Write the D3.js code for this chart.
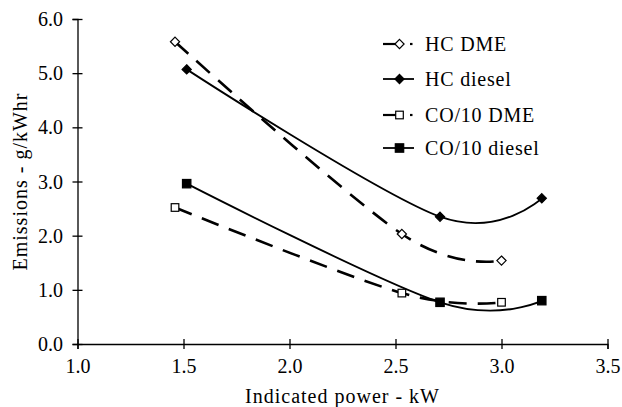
<!DOCTYPE html>
<html>
<head>
<meta charset="utf-8">
<script src="https://cdn.jsdelivr.net/npm/d3@7"></script>
<style>
  html, body { margin: 0; padding: 0; background: #fff; }
  svg { display: block; }
  text { font-family: "Liberation Serif", "Times New Roman", serif; fill: #000; }
</style>
</head>
<body>
<svg id="chart" width="622" height="407"></svg>
<script>
// ---- data ----
const dmeX      = [1.46, 2.53, 3.00];
const dieselX   = [1.515, 2.71, 3.19];
const hcDME     = [5.58, 2.03, 1.54];
const hcDiesel  = [5.07, 2.35, 2.69];
const coDME     = [2.52, 0.94, 0.77];
const coDiesel  = [2.96, 0.77, 0.80];
const xTicks    = [1.0, 1.5, 2.0, 2.5, 3.0, 3.5];
const yTicks    = [0, 1, 2, 3, 4, 5, 6];
const seriesNames = ["HC DME", "HC diesel", "CO/10 DME", "CO/10 diesel"];
const xTitle = "Indicated power - kW";
const yTitle = "Emissions - g/kWhr";

const series = [
  { name: seriesNames[0], xs: dmeX,    ys: hcDME,    marker: "diamond", filled: false, dashed: true },
  { name: seriesNames[1], xs: dieselX, ys: hcDiesel, marker: "diamond", filled: true,  dashed: false },
  { name: seriesNames[2], xs: dmeX,    ys: coDME,    marker: "square",  filled: false, dashed: true },
  { name: seriesNames[3], xs: dieselX, ys: coDiesel, marker: "square",  filled: true,  dashed: false }
];

const svg = d3.select("#chart");
const x = d3.scaleLinear().domain([1.0, 3.5]).range([77.5, 607.5]);
const y = d3.scaleLinear().domain([0, 6]).range([344, 19]);

// axes
const gx = svg.append("g").attr("transform", `translate(0,${y(0)})`)
  .call(d3.axisBottom(x).tickValues(xTicks).tickFormat(d3.format(".1f")).tickSizeOuter(0).tickSize(5));
gx.select(".domain").attr("stroke", "#000").attr("stroke-width", 1.3);
gx.selectAll(".tick line").attr("y1", -5).attr("y2", 5).attr("stroke", "#000").attr("stroke-width", 1.3);
gx.selectAll(".tick text").attr("y", 29).attr("dy", null)
  .style("font-size", "20px").style("font-family", "'Liberation Serif', serif").attr("fill", "#000");

const gy = svg.append("g").attr("transform", `translate(${x(1.0)},0)`)
  .call(d3.axisLeft(y).tickValues(yTicks).tickFormat(d3.format(".1f")).tickSizeOuter(0).tickSize(5));
gy.select(".domain").attr("stroke", "#000").attr("stroke-width", 1.3);
gy.selectAll(".tick line").attr("x1", -5).attr("x2", 5).attr("stroke", "#000").attr("stroke-width", 1.3);
gy.selectAll(".tick text").attr("x", -14.5).attr("dy", "0.33em")
  .style("font-size", "20px").style("font-family", "'Liberation Serif', serif").attr("fill", "#000");

// axis titles
svg.append("text").attr("x", (x(1.0) + x(3.5)) / 2).attr("y", 403)
  .attr("text-anchor", "middle").style("font-size", "20px").style("letter-spacing", "1px")
  .text(xTitle);
svg.append("text").attr("transform", `translate(27,${(y(0) + y(6)) / 2}) rotate(-90)`)
  .attr("text-anchor", "middle").style("font-size", "20px").style("letter-spacing", "1px")
  .text(yTitle);

// lines
const line = d3.line().curve(d3.curveCardinal.tension(0)).x(d => x(d[0])).y(d => y(d[1]));
const dash = "18,11";

function drawMarker(g, cx, cy, s) {
  if (s.marker === "diamond") {
    const r = 4.6;
    g.append("path").attr("d", `M${cx},${cy - r}L${cx + r},${cy}L${cx},${cy + r}L${cx - r},${cy}Z`)
      .attr("fill", s.filled ? "#000" : "#fff").attr("stroke", "#000").attr("stroke-width", 1.2);
  } else {
    const h = s.filled ? 4.2 : 3.8;
    g.append("rect").attr("x", cx - h).attr("y", cy - h).attr("width", 2 * h).attr("height", 2 * h)
      .attr("fill", s.filled ? "#000" : "#fff").attr("stroke", "#000").attr("stroke-width", 1.2);
  }
}

series.forEach(s => {
  const pts = s.xs.map((v, i) => [v, s.ys[i]]);
  svg.append("path").attr("d", line(pts)).attr("fill", "none").attr("stroke", "#000")
    .attr("stroke-width", s.dashed ? 2.6 : 1.8)
    .attr("stroke-dasharray", s.dashed ? dash : null);
});
series.forEach(s => {
  const g = svg.append("g");
  s.xs.forEach((v, i) => drawMarker(g, x(v), y(s.ys[i]), s));
});

// legend
const legendY = [44, 79, 115, 148];
const lg = svg.append("g");
series.forEach((s, i) => {
  const ly = legendY[i];
  if (s.dashed) {
    lg.append("line").attr("x1", 383).attr("x2", 396).attr("y1", ly).attr("y2", ly)
      .attr("stroke", "#000").attr("stroke-width", 2.2);
    lg.append("line").attr("x1", 410).attr("x2", 412.5).attr("y1", ly).attr("y2", ly)
      .attr("stroke", "#000").attr("stroke-width", 2.2);
  } else {
    lg.append("line").attr("x1", 383).attr("x2", 414).attr("y1", ly).attr("y2", ly)
      .attr("stroke", "#000").attr("stroke-width", 1.8);
  }
  drawMarker(lg, 399.5, ly, s);
  lg.append("text").attr("x", 425).attr("y", ly).attr("dy", "0.33em")
    .style("font-size", "20px").style("letter-spacing", "0.8px").text(s.name);
});
</script>
</body>
</html>
